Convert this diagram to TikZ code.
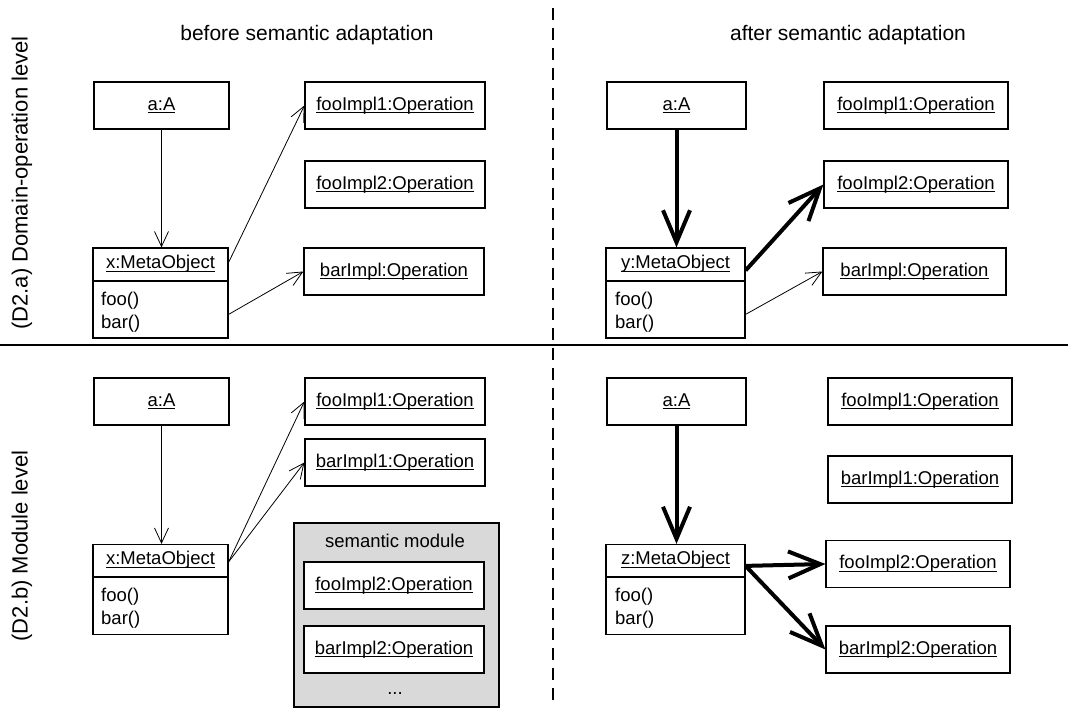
\documentclass[tikz,border=0pt]{standalone}
\usepackage{fontspec}
\setmainfont{Liberation Sans}
\usetikzlibrary{arrows.meta,calc}
\newcommand\myfs{\fontsize{18.5}{22}\selectfont}
\newcommand\mytitlefs{\fontsize{21}{25}\selectfont}
\newcommand\mysidefs{\fontsize{22}{26}\selectfont}
\newcommand\myul[1]{\setbox0\hbox{#1}\leavevmode\rlap{\rule[-3pt]{\wd0}{0.9pt}}\box0}
\begin{document}
\begin{tikzpicture}[x=1pt,y=-1pt,
  obj/.style={draw, line width=1.2pt, fill=white, minimum height=47pt, inner sep=0pt, font=\myfs},
  meta/.style={draw, line width=1.2pt, fill=white, minimum height=90pt, minimum width=#1, inner sep=0pt},
  txt/.style={font=\myfs, inner sep=0pt},
  title/.style={font=\mytitlefs, inner sep=0pt},
  side/.style={font=\mysidefs, inner sep=0pt, rotate=90},
  thinarrow/.style={line width=0.8pt, -{Straight Barb[length=15pt,width=14pt,line width=0.8pt]}},
  thickarrow/.style={line width=4pt, -{Straight Barb[length=32pt,width=27pt,line width=4pt]}},
  modbox/.style={draw, line width=1.2pt, fill=black!15, minimum width=205pt, minimum height=184pt, inner sep=0pt}
]
\useasboundingbox (0,0) rectangle (1068,708);

% separators
\draw[line width=1.3pt] (0,345) -- (1068,345);
\draw[line width=1.3pt, dash pattern=on 12pt off 8pt, dash phase=-8pt] (553,0) -- (553,700);

% titles
\node[title] (t1) at (307,35) {before semantic adaptation};
\node[title] (t2) at (848,35) {after semantic adaptation};
\node[side] (l1) at (22,183) {(D2.a) Domain-operation level};
\node[side] (l2) at (22,546) {(D2.b) Module level};

% ---------- top left ----------
\node[obj, minimum width=135pt] (aA1) at (161.5,105.5) {\myul{a:A}};
\node[obj, minimum width=180pt] (f11) at (395,105.5) {\myul{fooImpl1:Operation}};
\node[obj, minimum width=180pt] (f21) at (395,184.5) {\myul{fooImpl2:Operation}};
\node[obj, minimum width=180pt] (b1) at (394,271.5) {\myul{barImpl:Operation}};
\node[meta=135pt] (x1) at (160.5,293) {};
\draw[line width=1.2pt] (93,281) -- (228,281);
\node[txt] (x1n) at (160.5,264) {\myul{x:MetaObject}};
\node[txt, anchor=west] (x1f) at (101,301) {foo()};
\node[txt, anchor=west] (x1b) at (101,324) {bar()};
\draw[thinarrow] (aA1.south) -- (aA1.south |- x1.north);
\draw[thinarrow] ($(x1.north east)+(0,15)$) -- (f11.west);
\draw[thinarrow] ($(x1.north east)+(0,67)$) -- (b1.west);

% ---------- top right ----------
\node[obj, minimum width=139pt] (aA2) at (676.5,105.5) {\myul{a:A}};
\node[obj, minimum width=184pt] (f12) at (916,105.5) {\myul{fooImpl1:Operation}};
\node[obj, minimum width=184pt] (f22) at (916,184.5) {\myul{fooImpl2:Operation}};
\node[obj, minimum width=183pt] (b2) at (914.5,271.5) {\myul{barImpl:Operation}};
\node[meta=139pt] (y2) at (675.5,293) {};
\draw[line width=1.2pt] (606,281) -- (745,281);
\node[txt] (y2n) at (675.5,264) {\myul{y:MetaObject}};
\node[txt, anchor=west] (y2f) at (615,301) {foo()};
\node[txt, anchor=west] (y2b) at (615,324) {bar()};
\draw[thickarrow] (aA2.south) -- (aA2.south |- y2.north);
\draw[thickarrow] ($(y2.north east)+(0,23)$) -- (f22.west);
\draw[thinarrow] ($(y2.north east)+(0,67)$) -- (b2.west);

% ---------- bottom left ----------
\node[obj, minimum width=135pt] (aA3) at (161.5,401.5) {\myul{a:A}};
\node[obj, minimum width=180pt] (f13) at (395,401.5) {\myul{fooImpl1:Operation}};
\node[obj, minimum width=180pt] (b13) at (395,462.5) {\myul{barImpl1:Operation}};
\node[meta=135pt] (x3) at (160.5,589.5) {};
\draw[line width=1.2pt] (93,577) -- (228,577);
\node[txt] (x3n) at (160.5,560) {\myul{x:MetaObject}};
\node[txt, anchor=west] (x3f) at (101,597) {foo()};
\node[txt, anchor=west] (x3b) at (101,620) {bar()};
\node[modbox] (mod) at (396.5,615) {};
\node[txt] (modt) at (395,541) {semantic module};
\node[obj, minimum width=180pt] (f23) at (394,585.5) {\myul{fooImpl2:Operation}};
\node[obj, minimum width=180pt] (b23) at (394,649.5) {\myul{barImpl2:Operation}};
\node[txt] (dots) at (395,694) {...};
\draw[thinarrow] (aA3.south) -- (aA3.south |- x3.north);
\draw[thinarrow] ($(x3.north east)+(0,18)$) -- (f13.west);
\draw[thinarrow] ($(x3.north east)+(0,18)$) -- (b13.west);

% ---------- bottom right ----------
\node[obj, minimum width=139pt] (aA4) at (676.5,401.5) {\myul{a:A}};
\node[obj, minimum width=184pt] (f14) at (920,401.5) {\myul{fooImpl1:Operation}};
\node[obj, minimum width=184pt] (b14) at (920,479.5) {\myul{barImpl1:Operation}};
\node[obj, minimum width=184pt] (f24) at (918,564) {\myul{fooImpl2:Operation}};
\node[obj, minimum width=184pt] (b24) at (918,649.5) {\myul{barImpl2:Operation}};
\node[meta=139pt] (z4) at (675.5,589.5) {};
\draw[line width=1.2pt] (606,577) -- (745,577);
\node[txt] (z4n) at (675.5,560) {\myul{z:MetaObject}};
\node[txt, anchor=west] (z4f) at (615,597) {foo()};
\node[txt, anchor=west] (z4b) at (615,620) {bar()};
\draw[thickarrow] (aA4.south) -- (aA4.south |- z4.north);
\draw[thickarrow] ($(z4.north east)+(0,22)$) -- (f24.west);
\draw[thickarrow] ($(z4.north east)+(0,22)$) -- (b24.west);
\end{tikzpicture}
\end{document}
